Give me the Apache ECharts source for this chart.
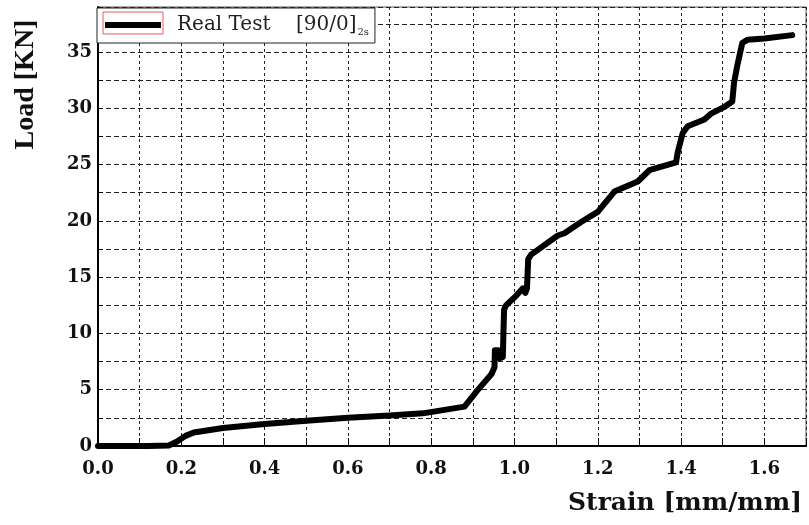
<!DOCTYPE html>
<html><head><meta charset="utf-8">
<script src="https://cdn.jsdelivr.net/npm/echarts@6/dist/echarts.min.js"></script>
<style>html,body{margin:0;padding:0;background:#fff}#c{width:809px;height:525px}</style>
</head><body><div id="c"></div>
<script>
var seriesName = 'Real Test';
var strain = [0,0.12,0.17,0.19,0.21,0.23,0.30,0.40,0.50,0.60,0.70,0.78,0.88,0.91,0.945,0.952,0.953,0.962,0.965,0.972,0.975,0.98,1.0,1.02,1.026,1.03,1.033,1.04,1.104,1.12,1.16,1.2,1.24,1.296,1.324,1.388,1.392,1.404,1.416,1.456,1.471,1.503,1.523,1.527,1.535,1.547,1.56,1.6,1.667];
var load = [0,0,0.05,0.4,0.9,1.2,1.6,1.95,2.25,2.5,2.7,2.9,3.5,4.9,6.4,7.0,8.5,8.5,7.8,7.9,12.1,12.5,13.2,14.0,13.6,14.0,16.6,17.0,18.7,18.9,19.9,20.8,22.6,23.5,24.5,25.2,26.1,27.8,28.4,29.0,29.5,30.1,30.6,32.2,33.8,35.8,36.1,36.2,36.5];
var xTickLabels = ['0.0','0.2','0.4','0.6','0.8','1.0','1.2','1.4','1.6'];
var yTickLabels = ['0','5','10','15','20','25','30','35'];

var data = strain.map(function(s,i){return [s, load[i]];});
var chart = echarts.init(document.getElementById('c'), null, {renderer:'canvas'});
var tickFont = {fontFamily:'DejaVu Serif', fontWeight:'bold', fontSize:18, color:'#111'};
chart.setOption({
  backgroundColor:'#fff',
  animation:false,
  grid:{left:98, right:1, top:7, bottom:79, show:true, borderColor:'#555', borderWidth:1},
  legend:{
    data:[seriesName], left:97, top:8, orient:'horizontal',
    icon:'rect', itemWidth:56, itemHeight:6,
    padding:[7,6,6,8], borderColor:'#222', borderWidth:1, backgroundColor:'#fff',
    formatter:function(n){return '{a|'+n+'    [90/0]}{s|2s}';},
    textStyle:{rich:{
      a:{fontFamily:'DejaVu Serif', fontSize:20, color:'#222', padding:[0,0,0,11]},
      s:{fontFamily:'DejaVu Serif', fontSize:10, color:'#222', padding:[14,0,0,1]}
    }}
  },
  xAxis:{
    type:'value', min:0, max:1.7, interval:0.1,
    name:'Strain [mm/mm]', nameLocation:'end', nameGap:-4,
    nameTextStyle:{fontFamily:'DejaVu Serif', fontWeight:'bold', fontSize:25, color:'#111', align:'right', verticalAlign:'top', padding:[45,0,0,0]},
    axisLine:{show:true, lineStyle:{color:'#000', width:2}},
    axisTick:{show:true, inside:true, length:8, lineStyle:{color:'#000'}},
    axisLabel:Object.assign({margin:14, formatter:function(v){
      var k = Math.round(v*10); if (k%2!==0) return ''; return xTickLabels[k/2] || '';
    }}, tickFont),
    splitLine:{show:true, lineStyle:{color:'#222', type:[3,3], width:1}}
  },
  yAxis:{
    type:'value', min:0, max:39, interval:2.5,
    name:'Load [KN]', nameLocation:'middle', nameGap:58,
    nameTextStyle:{fontFamily:'Liberation Serif', fontWeight:'bold', fontSize:28, color:'#111', padding:[0,0,0,284]},
    axisLine:{show:true, lineStyle:{color:'#000', width:2}},
    axisTick:{show:true, inside:true, length:5, lineStyle:{color:'#000'}},
    axisLabel:Object.assign({margin:6, formatter:function(v){
      var k = Math.round(v*2); if (k%10!==0 || Math.abs(v*2-k)>1e-6) return ''; return yTickLabels[k/10] || '';
    }}, tickFont),
    splitLine:{show:true, lineStyle:{color:'#222', type:[5,3], width:1}}
  },
  graphic:[{type:'rect', shape:{x:103, y:12, width:60, height:22}, style:{fill:null, stroke:'#e06060', lineWidth:1}, z:100}],
  series:[{
    name:seriesName, type:'line', data:data, showSymbol:false, symbol:'none',
    lineStyle:{color:'#000', width:6, join:'round', cap:'round'}, itemStyle:{color:'#000'}
  }]
});
</script></body></html>
